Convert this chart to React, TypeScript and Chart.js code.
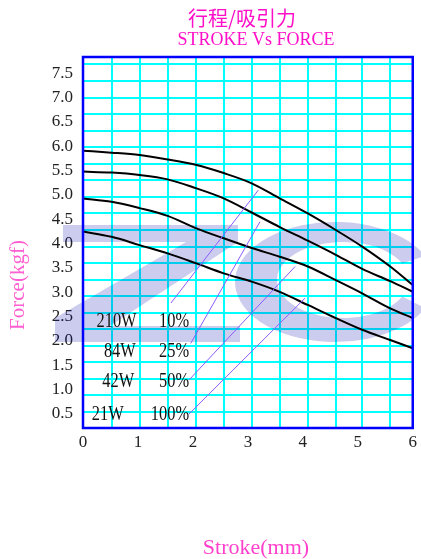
import React, { useEffect, useRef } from 'react';
import { Chart, registerables } from 'chart.js';

Chart.register(...registerables);

// ---- data ----
const strokeMm = [0, 0.52, 1.03, 1.54, 2.05, 2.56, 3.07, 3.58, 4.09, 4.6, 5.08, 5.59, 6];
const force210W = [5.91, 5.87, 5.82, 5.73, 5.62, 5.45, 5.24, 4.93, 4.62, 4.28, 3.94, 3.53, 3.15];
const force84W = [5.48, 5.46, 5.41, 5.32, 5.14, 4.93, 4.64, 4.34, 4.06, 3.77, 3.48, 3.23, 3.01];
const force42W = [4.93, 4.86, 4.73, 4.57, 4.32, 4.11, 3.91, 3.73, 3.53, 3.25, 2.98, 2.67, 2.47];
const force21W = [4.25, 4.14, 3.97, 3.8, 3.6, 3.39, 3.22, 3.01, 2.74, 2.47, 2.23, 2.02, 1.85];

const powerLabels = ['210W', '84W', '42W', '21W'];
const dutyLabels = ['10%', '25%', '50%', '100%'];

// leader lines from the rating labels to the curves (data units)
const leaderStartX = [1.6, 1.96, 1.93, 1.93];
const leaderStartY = [2.78, 1.95, 1.2, 0.5];
const leaderEndX = [3.19, 3.22, 3.86, 4.04];
const leaderEndY = [5.1, 4.45, 3.53, 2.88];

// tick labels
const xTickLabels = [0, 1, 2, 3, 4, 5, 6];
const yTickLabels = [0.5, 1, 1.5, 2, 2.5, 3, 3.5, 4, 4.5, 5, 5.5, 6, 6.5, 7, 7.5];
// grid lines of the reference (not aligned with the labels)
const xGridLines = [0.52, 1.03, 1.54, 2.05, 2.56, 3.07, 3.58, 4.09, 4.6, 5.08, 5.59];
const yGridLines = [7.69, 7.35, 7.0, 6.66, 6.32, 5.98, 5.64, 5.3, 4.96, 4.62, 4.28, 3.94, 3.6, 3.26, 2.92, 2.58, 2.24, 1.9, 1.56, 1.22, 0.88, 0.54];

const titleCn = '行程/吸引力';
const titleEn = 'STROKE Vs FORCE';
const yTitle = 'Force(kgf)';
const xTitle = 'Stroke(mm)';

// ---- styles ----
const CYAN = '#00ffff';
const BLUE = '#0000ff';
const LEADER = '#8a5cff';
const SERIF = '"Liberation Serif", "Times New Roman", serif';

const has = (arr: number[], v: number) => arr.some((a) => Math.abs(a - v) < 1e-6);
function mergedTicks(labels: number[], grid: number[]) {
  const m = new Map<string, number>();
  [...labels, ...grid].forEach((v) => m.set(v.toFixed(3), v));
  return [...m.values()].sort((a, b) => a - b).map((v) => ({ value: v }));
}

// label anchors (data units)
const labelRowY = [2.4, 1.78, 1.17, 0.48];
const powerLabelX = [0.61, 0.67, 0.64, 0.45];
const dutyLabelRightX = 1.93;

function narrowText(ctx: CanvasRenderingContext2D, text: string, x: number, y: number, align: CanvasTextAlign, sx: number) {
  ctx.save();
  ctx.translate(x, y);
  ctx.scale(sx, 1);
  ctx.textAlign = align;
  ctx.fillText(text, 0, 0);
  ctx.restore();
}

const decoPlugin = {
  id: 'deco',
  beforeDatasetsDraw(chart: any) {
    const ctx: CanvasRenderingContext2D = chart.ctx;
    ctx.save();
    ctx.fillStyle = 'rgba(0,0,170,0.2)';
    // "Z" shape watermark
    ctx.beginPath();
    const z = [
      [63, 225], [238, 225], [238, 242], [110, 326], [240, 326], [240, 342],
      [55, 342], [55, 318], [186, 242], [63, 242],
    ];
    z.forEach(([x, y], i) => (i ? ctx.lineTo(x, y) : ctx.moveTo(x, y)));
    ctx.closePath();
    ctx.fill();
    // "C" shape watermark
    ctx.beginPath();
    ctx.ellipse(335, 282, 100, 60, 0, 0.45, Math.PI * 2 - 0.45, false);
    ctx.ellipse(343, 280, 66, 38, 0, Math.PI * 2 - 0.45, 0.45, true);
    ctx.closePath();
    ctx.fill();
    ctx.restore();
  },
  afterDatasetsDraw(chart: any) {
    const ctx: CanvasRenderingContext2D = chart.ctx;
    const a = chart.chartArea;
    const xs = chart.scales.x;
    const ys = chart.scales.y;
    ctx.save();
    ctx.strokeStyle = BLUE;
    ctx.lineWidth = 2.5;
    ctx.strokeRect(a.left, a.top, a.right - a.left, a.bottom - a.top);
    ctx.fillStyle = '#111';
    ctx.font = `20px ${SERIF}`;
    ctx.textBaseline = 'middle';
    for (let i = 0; i < powerLabels.length; i++) {
      const y = ys.getPixelForValue(labelRowY[i]);
      narrowText(ctx, powerLabels[i], xs.getPixelForValue(powerLabelX[i]), y, 'center', 0.82);
      narrowText(ctx, dutyLabels[i], xs.getPixelForValue(dutyLabelRightX), y, 'right', 0.82);
    }
    ctx.restore();
  },
  afterDraw(chart: any) {
    const ctx: CanvasRenderingContext2D = chart.ctx;
    ctx.save();
    ctx.textAlign = 'center';
    ctx.textBaseline = 'middle';
    ctx.fillStyle = '#ff10c8';
    ctx.font = '20px "Noto Sans CJK SC", sans-serif';
    ctx.fillText(titleCn, 242, 18);
    ctx.font = `18px ${SERIF}`;
    ctx.fillText(titleEn, 256, 40);
    ctx.fillStyle = '#ff40cc';
    ctx.font = `22px ${SERIF}`;
    ctx.fillText(xTitle, 256, 548);
    ctx.save();
    ctx.translate(18, 285);
    ctx.rotate(-Math.PI / 2);
    ctx.fillStyle = '#ff5fd0';
    ctx.font = `21px ${SERIF}`;
    ctx.fillText(yTitle, 0, 0);
    ctx.restore();
    ctx.restore();
  },
};

function curve(values: number[]) {
  return {
    data: strokeMm.map((x, i) => ({ x, y: values[i] })),
    borderColor: '#000',
    borderWidth: 2,
    pointRadius: 0,
    cubicInterpolationMode: 'monotone' as const,
    tension: 0.4,
  };
}

function leader(i: number) {
  return {
    data: [
      { x: leaderStartX[i], y: leaderStartY[i] },
      { x: leaderEndX[i], y: leaderEndY[i] },
    ],
    borderColor: LEADER,
    borderWidth: 1,
    pointRadius: 0,
    tension: 0,
  };
}

export default function App() {
  const ref = useRef<HTMLCanvasElement>(null);
  useEffect(() => {
    const chart = new Chart(ref.current as HTMLCanvasElement, {
      type: 'line',
      data: {
        datasets: [
          ...[0, 1, 2, 3].map(leader),
          curve(force210W),
          curve(force84W),
          curve(force42W),
          curve(force21W),
        ] as any,
      },
      options: {
        animation: false,
        responsive: false,
        maintainAspectRatio: false,
        layout: { padding: { left: 0, top: 57, right: 5, bottom: 101 } },
        plugins: { legend: { display: false }, tooltip: { enabled: false }, title: { display: false } },
        scales: {
          x: {
            type: 'linear',
            min: 0,
            max: 6,
            afterBuildTicks: (s: any) => {
              s.ticks = mergedTicks(xTickLabels, xGridLines);
            },
            afterFit: (s: any) => {
              s.height = 30;
            },
            border: { display: false },
            grid: {
              drawTicks: false,
              lineWidth: 2,
              color: (c: any) => (c.tick && has(xGridLines, c.tick.value) ? CYAN : 'rgba(0,0,0,0)'),
            },
            ticks: {
              autoSkip: false,
              maxRotation: 0,
              minRotation: 0,
              padding: 4,
              color: '#222',
              font: { family: SERIF, size: 17 },
              callback: (v: any) => (has(xTickLabels, Number(v)) ? String(Math.round(Number(v))) : ''),
            },
          },
          y: {
            type: 'linear',
            min: 0.212,
            max: 7.835,
            afterBuildTicks: (s: any) => {
              s.ticks = mergedTicks(yTickLabels, yGridLines);
            },
            afterFit: (s: any) => {
              s.width = 83;
            },
            border: { display: false },
            grid: {
              drawTicks: false,
              lineWidth: 2,
              color: (c: any) => (c.tick && has(yGridLines, c.tick.value) ? CYAN : 'rgba(0,0,0,0)'),
            },
            ticks: {
              autoSkip: false,
              padding: 10,
              color: '#222',
              font: { family: SERIF, size: 17 },
              callback: (v: any) => (has(yTickLabels, Number(v)) ? Number(v).toFixed(1) : ''),
            },
          },
        },
      },
      plugins: [decoPlugin],
    });
    return () => chart.destroy();
  }, []);
  return (
    <div style={{ position: 'absolute', left: 0, top: 0, width: 421, height: 559, background: '#fff' }}>
      <canvas ref={ref} width={421} height={559} style={{ display: 'block', width: 421, height: 559 }} />
    </div>
  );
}
